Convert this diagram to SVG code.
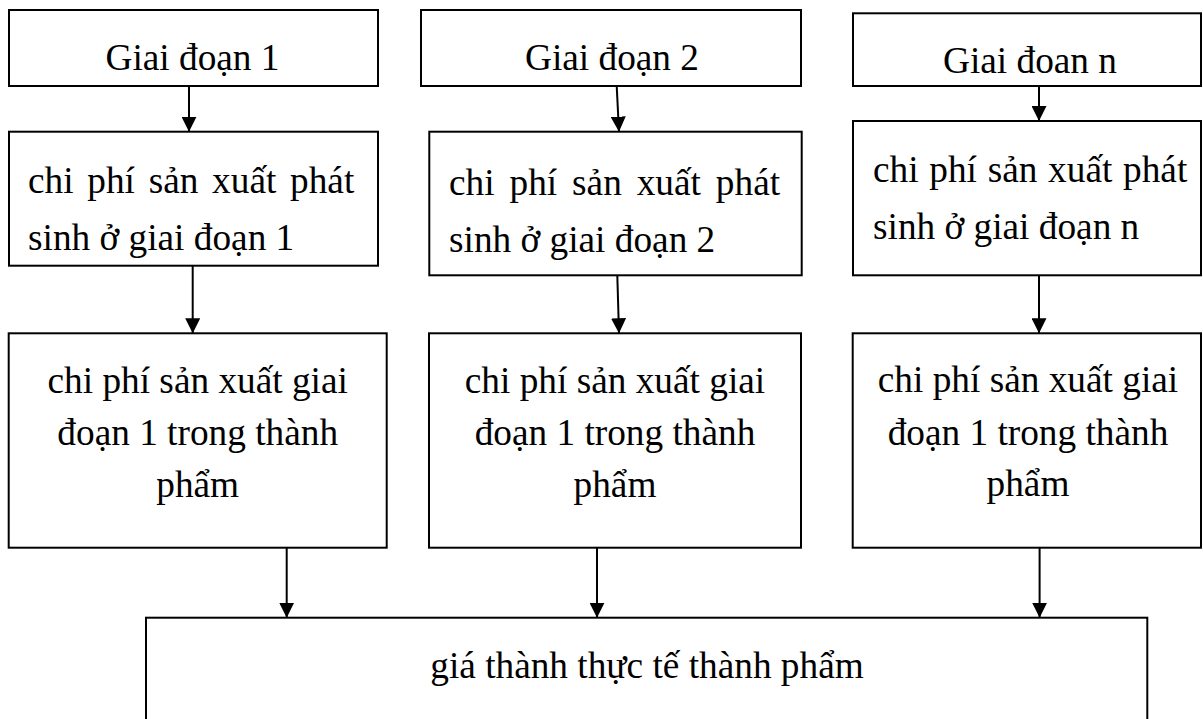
<svg xmlns="http://www.w3.org/2000/svg" width="1203" height="719" viewBox="0 0 1203 719">
  <style>
    .box { fill: #ffffff; stroke: #000000; stroke-width: 2; }
    .lbl { font-family: "Liberation Serif", "Times New Roman", serif; font-size: 37.3px; fill: #000000; }
    .mid { text-anchor: middle; }
    .edge { fill: none; stroke: #000000; stroke-width: 2; marker-end: url(#head); }
  </style>
  <defs>
    <marker id="head" markerUnits="userSpaceOnUse" markerWidth="15" markerHeight="15" refX="15" refY="7.5" orient="auto">
      <path d="M0,0 L15,7.5 L0,15 Z" fill="#000000"/>
    </marker>
  </defs>
  <rect width="1203" height="719" fill="#ffffff"/>

  <!-- stage headers -->
  <g id="stage-1">
    <rect class="box" x="9" y="10" width="369" height="76"/>
    <text class="lbl mid" x="192.5" y="70">Giai đoạn 1</text>
  </g>
  <g id="stage-2">
    <rect class="box" x="421" y="10" width="380" height="76"/>
    <text class="lbl mid" x="612" y="70">Giai đoạn 2</text>
  </g>
  <g id="stage-n">
    <rect class="box" x="853" y="13.3" width="348" height="72.7"/>
    <text class="lbl mid" x="1030" y="73.3">Giai đoan n</text>
  </g>

  <!-- costs incurred per stage -->
  <g id="cost-1">
    <rect class="box" x="9" y="131.7" width="369" height="134"/>
    <text class="lbl" x="28" y="193" word-spacing="4.4">chi phí sản xuất phát</text>
    <text class="lbl" x="28" y="250">sinh ở giai đoạn 1</text>
  </g>
  <g id="cost-2">
    <rect class="box" x="429.3" y="131.7" width="372.4" height="143.6"/>
    <text class="lbl" x="449" y="194.5" word-spacing="5.6">chi phí sản xuất phát</text>
    <text class="lbl" x="449" y="251.5">sinh ở giai đoạn 2</text>
  </g>
  <g id="cost-n">
    <rect class="box" x="853" y="121" width="348" height="154.3"/>
    <text class="lbl" x="873" y="182" word-spacing="1.4">chi phí sản xuất phát</text>
    <text class="lbl" x="873" y="239">sinh ở giai đoạn n</text>
  </g>

  <!-- cost share carried into finished goods -->
  <g id="share-1">
    <rect class="box" x="8.7" y="333.3" width="378" height="214.4"/>
    <text class="lbl mid" x="197.7" y="393">chi phí sản xuất giai</text>
    <text class="lbl mid" x="197.7" y="445">đoạn 1 trong thành</text>
    <text class="lbl mid" x="197.7" y="497">phẩm</text>
  </g>
  <g id="share-2">
    <rect class="box" x="429" y="333.3" width="372" height="214.4"/>
    <text class="lbl mid" x="615" y="393">chi phí sản xuất giai</text>
    <text class="lbl mid" x="615" y="445">đoạn 1 trong thành</text>
    <text class="lbl mid" x="615" y="497">phẩm</text>
  </g>
  <g id="share-n">
    <rect class="box" x="852.7" y="333.3" width="348.3" height="214.4"/>
    <text class="lbl mid" x="1028" y="392">chi phí sản xuất giai</text>
    <text class="lbl mid" x="1028" y="445">đoạn 1 trong thành</text>
    <text class="lbl mid" x="1028" y="496">phẩm</text>
  </g>

  <!-- total actual cost -->
  <g id="total">
    <rect class="box" x="146" y="617.7" width="1001.3" height="130"/>
    <text class="lbl mid" x="647" y="678">giá thành thực tế thành phẩm</text>
  </g>

  <g id="connectors">
    <path class="edge" d="M189,86 L189,131.7"/>
    <path class="edge" d="M616.7,86 L619,131.7"/>
    <path class="edge" d="M1039,86 L1039,121"/>
    <path class="edge" d="M192.7,265.7 L192.7,333.3"/>
    <path class="edge" d="M617.3,275.3 L619,333.3"/>
    <path class="edge" d="M1039,275.3 L1039,333.3"/>
    <path class="edge" d="M286.7,547.7 L286.7,617.7"/>
    <path class="edge" d="M597,547.7 L597,617.7"/>
    <path class="edge" d="M1039.6,547.7 L1039.6,617.7"/>
  </g>
</svg>
